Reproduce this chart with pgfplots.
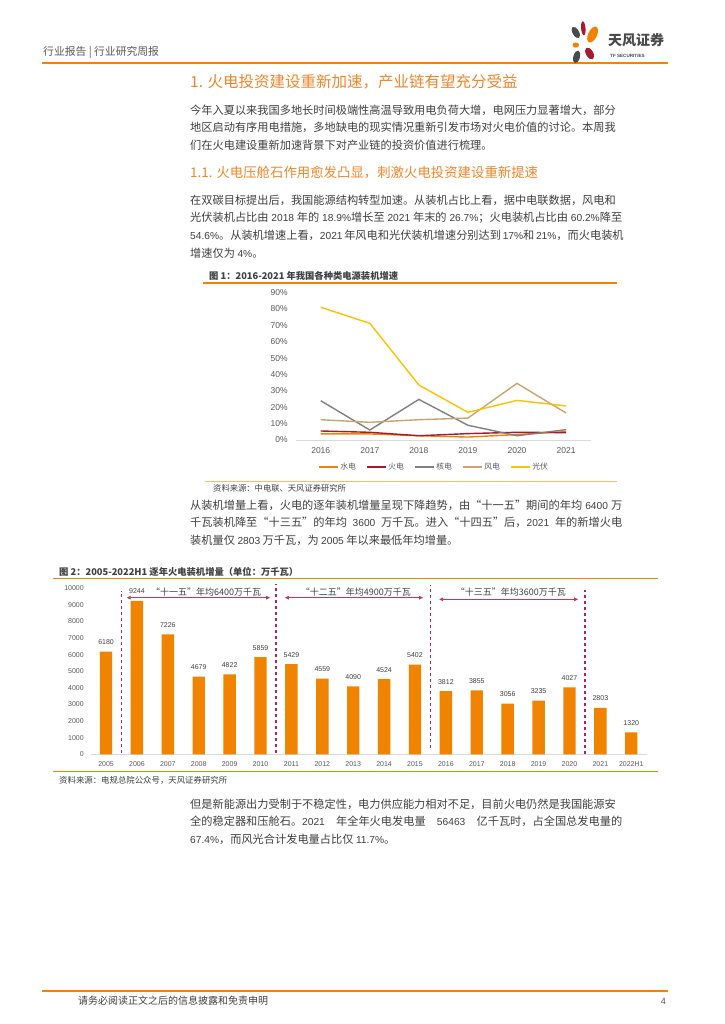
\documentclass[border=0pt]{standalone}
\usepackage{pgfplots}
\pgfplotsset{compat=1.18}
\usepackage{fontspec}
\setmainfont{Noto Sans CJK SC}
\newfontfamily\lat{Liberation Sans}
\usetikzlibrary{arrows.meta}
\XeTeXlinebreaklocale "zh"
\XeTeXlinebreakskip=0pt plus 2pt

\definecolor{tforange}{HTML}{F08300}
\definecolor{titleor}{HTML}{F0862C}
\definecolor{txt}{HTML}{404040}
\definecolor{gr}{HTML}{595959}
\definecolor{axisgray}{HTML}{D9D9D9}
\definecolor{crim}{HTML}{A6192E}
\definecolor{dashc}{HTML}{B8234E}
\definecolor{arrowc}{HTML}{C03A5E}
\definecolor{nuc}{HTML}{808080}
\definecolor{wind}{HTML}{C9A46E}
\definecolor{pv}{HTML}{FFC000}
\definecolor{hydro}{HTML}{F08300}
\definecolor{logogray}{HTML}{4A4A4A}

\newcommand\dg[1]{{\lat\fontsize{10.2}{10}\selectfont #1}}
\newcommand\bl[1]{\hbox to 432pt{\fontsize{11.2}{11.2}\selectfont #1}}
\newcommand\lastl[1]{\hbox{\fontsize{11.2}{11.2}\selectfont #1}}

\begin{document}
\begin{tikzpicture}[x=1pt,y=1pt]
\fill[white] (0,0) rectangle (724,1024);
\path[use as bounding box] (0,0) rectangle (724,1024);

% header
\node[anchor=west, inner sep=0, text=gr] at (43,972) {\fontsize{10.8}{10.8}\selectfont 行业报告 | 行业研究周报};
\draw[tforange, line width=2pt] (42,961) -- (668,961);
\begin{scope}[shift={(585,981)}]
  \fill[logogray, rotate around={30:(-9.2,10.5)}] (-9.2,10.5) ellipse (3.2 and 6.3);
  \fill[crim, rotate around={5:(-1.7,14.7)}] (-1.7,14.7) ellipse (2.2 and 7);
  \fill[tforange, rotate around={-25:(7.6,8.4)}] (7.6,8.4) ellipse (4.4 and 8.6);
  \fill[tforange] (-9.2,-2.1) ellipse (3.3 and 2.6);
  \fill[crim, rotate around={30:(4.6,-10.5)}] (4.6,-10.5) ellipse (3.6 and 6.5);
  \fill[logogray, rotate around={-15:(-8.4,-13.9)}] (-8.4,-13.9) ellipse (3.3 and 6.5);
\end{scope}
\node[anchor=west, inner sep=0, text=logogray] at (608,984) {\bfseries\fontsize{14}{14}\selectfont 天风证券};
\node[anchor=west, inner sep=0, text=logogray] at (610,968) {\lat\bfseries\fontsize{4.6}{4.6}\selectfont TF SECURITIES};

% section titles and text
\node[anchor=west, inner sep=0, text=titleor] at (190,942) {\fontsize{15.5}{15.5}\selectfont 1. 火电投资建设重新加速，产业链有望充分受益};
\begin{scope}[every node/.style={anchor=west, inner sep=0, text=txt}]
\node at (190,914) {\bl{今年入夏以来我国多地长时间极端性高温导致用电负荷大增，电网压力显著增大，部分}};
\node at (190,896.3) {\bl{地区启动有序用电措施，多地缺电的现实情况重新引发市场对火电价值的讨论。本周我}};
\node at (190,878.6) {\lastl{们在火电建设重新加速背景下对产业链的投资价值进行梳理。}};
\end{scope}
\node[anchor=west, inner sep=0, text=titleor] at (190,851) {\fontsize{13.4}{13.4}\selectfont 1.1. 火电压舱石作用愈发凸显，刺激火电投资建设重新提速};
\begin{scope}[every node/.style={anchor=west, inner sep=0, text=txt}]
\node at (190,824) {\bl{在双碳目标提出后，我国能源结构转型加速。从装机占比上看，据中电联数据，风电和}};
\node at (190,806.3) {\bl{光伏装机占比由 \dg{2018} 年的 \dg{18.9\%}增长至 \dg{2021} 年末的 \dg{26.7\%}；火电装机占比由 \dg{60.2\%}降至}};
\node at (190,788.6) {\bl{\dg{54.6\%}。从装机增速上看，\dg{2021} 年风电和光伏装机增速分别达到 \dg{17\%}和 \dg{21\%}，而火电装机}};
\node at (190,770.9) {\lastl{增速仅为 \dg{4\%}。}};
\end{scope}

% figure 1 frame
\node[anchor=west, inner sep=0, text=txt] at (209,748) {\bfseries\fontsize{9.3}{9.3}\selectfont 图 1：2016-2021 年我国各种类电源装机增速};
\draw[tforange, line width=1.1pt] (203,741) -- (617,741);
\draw[tforange!55, line width=0.8pt] (205,543) -- (617,543);
\node[anchor=west, inner sep=0, text=txt] at (213,535.5) {\fontsize{8.3}{8.3}\selectfont 资料来源：中电联、天风证券研究所};

\begin{axis}[
  at={(296.2pt,584pt)}, anchor=south west,
  width=294.4pt, height=147.3pt, scale only axis,
  xmin=2015.5, xmax=2021.5, ymin=0, ymax=90,
  axis x line*=bottom, axis y line*=left,
  x axis line style={draw=axisgray, line width=0.8pt, -},
  y axis line style={draw=none},
  xtick={2016,2017,2018,2019,2020,2021},
  xticklabels={2016,2017,2018,2019,2020,2021},
  ytick={0,10,20,30,40,50,60,70,80,90},
  yticklabels={0\%,10\%,20\%,30\%,40\%,50\%,60\%,70\%,80\%,90\%},
  major tick length=0pt,
  tick label style={font=\lat\fontsize{8.5}{8.5}\selectfont, text=gr},
  xticklabel style={yshift=-4pt},
  yticklabel style={xshift=-5pt},
  legend columns=5,
  legend style={at={(0.468,-0.183)}, anchor=center, draw=none, fill=none,
    font=\fontsize{7.8}{7.8}\selectfont, text=gr, inner sep=0pt,
    /tikz/every even column/.append style={column sep=8pt}},
  legend image code/.code={\draw[#1, line width=1.4pt] (0pt,0pt) -- (19pt,0pt);},
]
\addplot[hydro, line width=1.4pt] coordinates {(2016,3.7)(2017,3.7)(2018,2.6)(2019,1.8)(2020,3.3)(2021,5.1)};
\addlegendentry{水电}
\addplot[crim, line width=1.4pt] coordinates {(2016,5.5)(2017,4.7)(2018,2.6)(2019,3.9)(2020,4.7)(2021,4.5)};
\addlegendentry{火电}
\addplot[nuc, line width=1.4pt] coordinates {(2016,24.0)(2017,6.1)(2018,24.8)(2019,9.0)(2020,2.6)(2021,6.3)};
\addlegendentry{核电}
\addplot[wind, line width=1.4pt] coordinates {(2016,12.4)(2017,10.8)(2018,12.4)(2019,13.4)(2020,34.6)(2021,16.5)};
\addlegendentry{风电}
\addplot[pv, line width=1.4pt] coordinates {(2016,81.1)(2017,71.3)(2018,33.6)(2019,16.9)(2020,24.2)(2021,20.8)};
\addlegendentry{光伏}
\end{axis}

\begin{scope}[every node/.style={anchor=west, inner sep=0, text=txt}]
\node at (190,519) {\bl{从装机增量上看，火电的逐年装机增量呈现下降趋势，由“十一五”期间的年均 \dg{6400} 万}};
\node at (190,501.3) {\bl{千瓦装机降至“十三五”的年均 \dg{3600} 万千瓦。进入“十四五”后，\dg{2021} 年的新增火电}};
\node at (190,483.6) {\lastl{装机量仅 \dg{2803} 万千瓦，为 \dg{2005} 年以来最低年均增量。}};
\end{scope}

% figure 2 frame
\node[anchor=west, inner sep=0, text=txt] at (59,452.3) {\bfseries\fontsize{9.3}{9.3}\selectfont 图 2：2005-2022H1 逐年火电装机增量（单位：万千瓦）};
\draw[tforange, line width=1.1pt] (53,445.7) -- (658,445.7);
\draw[tforange, line width=1.1pt] (53,252.5) -- (658,252.5);
\node[anchor=west, inner sep=0, text=txt] at (59,244) {\fontsize{8.4}{8.4}\selectfont 资料来源：电规总院公众号，天风证券研究所};

\begin{axis}[
  at={(90.6pt,269.7pt)}, anchor=south west,
  width=556.1pt, height=166pt, scale only axis,
  xmin=-0.5, xmax=17.5, ymin=0, ymax=10000,
  ybar, bar width=12.4pt, clip=false,
  scaled y ticks=false,
  axis x line*=bottom, axis y line*=left,
  x axis line style={draw=axisgray, line width=0.8pt, -},
  y axis line style={draw=none},
  xtick={0,1,2,3,4,5,6,7,8,9,10,11,12,13,14,15,16,17},
  xticklabels={2005,2006,2007,2008,2009,2010,2011,2012,2013,2014,2015,2016,2017,2018,2019,2020,2021,2022H1},
  ytick={0,1000,2000,3000,4000,5000,6000,7000,8000,9000,10000},
  yticklabels={0,1000,2000,3000,4000,5000,6000,7000,8000,9000,10000},
  major tick length=0pt,
  tick label style={font=\lat\fontsize{7}{7}\selectfont, text=gr},
  xticklabel style={yshift=-3.5pt},
  yticklabel style={xshift=-3.3pt},
  nodes near coords={\pgfmathprintnumber[assume math mode=true, 1000 sep={}, fixed]{\pgfplotspointmeta}},
  every node near coord/.append style={font=\lat\fontsize{7}{7}\selectfont, text=txt, yshift=3.3pt},
]
\addplot[fill=tforange, draw=none] coordinates {
  (0,6180) (1,9244) (2,7226) (3,4679) (4,4822) (5,5859) (6,5429) (7,4559) (8,4090)
  (9,4524) (10,5402) (11,3812) (12,3855) (13,3056) (14,3235) (15,4027) (16,2803) (17,1320)};
\draw[dashc, line width=1.3pt, dash pattern=on 3.5pt off 2.5pt] (axis cs:0.5,60) -- (axis cs:0.5,9855);
\draw[dashc, line width=1.3pt, dash pattern=on 3.5pt off 2.5pt] (axis cs:5.5,60) -- (axis cs:5.5,10250);
\draw[dashc, line width=1.3pt, dash pattern=on 3.5pt off 2.5pt] (axis cs:10.5,360) -- (axis cs:10.5,10200);
\draw[dashc, line width=1.3pt, dash pattern=on 3.5pt off 2.5pt] (axis cs:15.5,0) -- (axis cs:15.5,9900);
\draw[arrowc, line width=0.8pt, {Triangle[length=4pt,width=3.6pt]}-{Triangle[length=4pt,width=3.6pt]}] (axis cs:0.67,9434) -- (axis cs:5.31,9434);
\draw[arrowc, line width=0.8pt, {Triangle[length=4pt,width=3.6pt]}-{Triangle[length=4pt,width=3.6pt]}] (axis cs:5.79,9434) -- (axis cs:10.26,9434);
\draw[arrowc, line width=0.8pt, {Triangle[length=4pt,width=3.6pt]}-{Triangle[length=4pt,width=3.6pt]}] (axis cs:10.78,9337) -- (axis cs:15.28,9337);
\node[text=txt, inner sep=0, font=\fontsize{9}{9}\selectfont] at (axis cs:3.24,9795) {“十一五”年均6400万千瓦};
\node[text=txt, inner sep=0, font=\fontsize{9}{9}\selectfont] at (axis cs:8.09,9795) {“十二五”年均4900万千瓦};
\node[text=txt, inner sep=0, font=\fontsize{9}{9}\selectfont] at (axis cs:13.1,9760) {“十三五”年均3600万千瓦};
\end{axis}

\begin{scope}[every node/.style={anchor=west, inner sep=0, text=txt}]
\node at (190,220) {\bl{但是新能源出力受制于不稳定性，电力供应能力相对不足，目前火电仍然是我国能源安}};
\node at (190,202.3) {\bl{全的稳定器和压舱石。\dg{2021} 年全年火电发电量 \dg{56463} 亿千瓦时，占全国总发电量的}};
\node at (190,184.6) {\lastl{\dg{67.4\%}，而风光合计发电量占比仅 \dg{11.7\%}。}};
\end{scope}

% footer
\draw[tforange, line width=2pt] (42,33) -- (668,33);
\node[anchor=west, inner sep=0, text=txt] at (78,23) {\fontsize{10}{10}\selectfont 请务必阅读正文之后的信息披露和免责申明};
\node[anchor=east, inner sep=0, text=gr] at (666,23) {\lat\fontsize{9}{9}\selectfont 4};
\end{tikzpicture}
\end{document}
